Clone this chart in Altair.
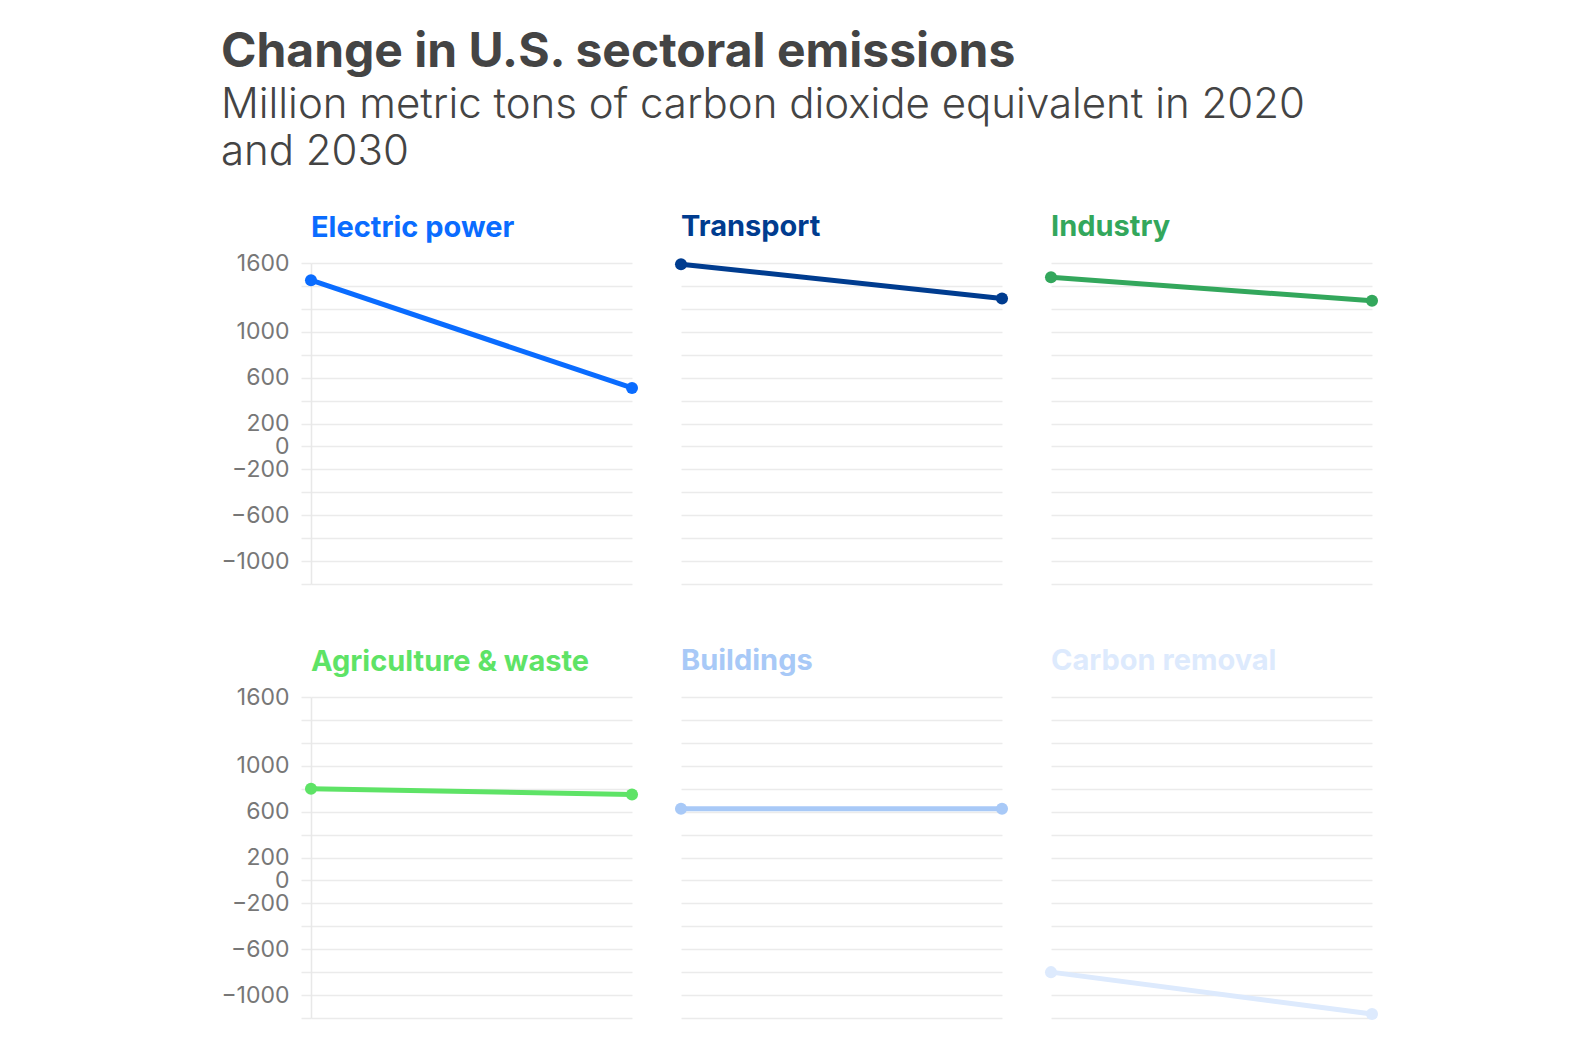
import altair as alt
import pandas as pd

sectors = ["Electric power", "Transport", "Industry",
           "Agriculture & waste", "Buildings", "Carbon removal"]
colors = ["#0A6CFF", "#003C8F", "#33A75C", "#5EE366", "#A8C9F7", "#DDEAFD"]
years = [2020, 2030]
values_2020 = [1450, 1590, 1475, 800, 625, -800]
values_2030 = [510, 1290, 1270, 750, 625, -1165]

grid_values = list(range(-1200, 1601, 200))
label_values = [1600, 1000, 600, 200, 0, -200, -600, -1000]

FONT = "Inter"
rows = []
for s, a, b in zip(sectors, values_2020, values_2030):
    rows.append({"sector": s, "year": years[0], "value": a})
    rows.append({"sector": s, "year": years[1], "value": b})
df = pd.DataFrame(rows)

label_expr = ("indexof([" + ",".join(str(v) for v in label_values)
              + "], datum.value) >= 0 ? format(datum.value, 'd') : ''")

# vertical nudge of each panel title to compensate for content overhang
title_dy = [14, 11, 2, 14, 2, 2]


def panel(i):
    s = sectors[i]
    c = colors[i]
    first_col = (i % 3 == 0)
    if first_col:
        yaxis = alt.Axis(values=grid_values, labelExpr=label_expr, title=None,
                         grid=True, gridColor="#ebebeb", gridWidth=1.5,
                         domain=True, domainColor="#e8e8e8", domainWidth=1.5,
                         ticks=True, tickColor="#ebebeb", tickSize=10, tickWidth=1.5,
                         labelFontSize=23, labelColor="#777777", labelFont=FONT,
                         labelPadding=12, labelOverlap=False, labelBound=False,
                         labelFlush=False)
    else:
        yaxis = alt.Axis(values=grid_values, labels=False, title=None, grid=True,
                         gridColor="#ebebeb", gridWidth=1.5, domain=False,
                         ticks=False)
    base = alt.Chart(df).transform_filter(alt.datum.sector == s)
    enc = dict(
        x=alt.X("year:Q", scale=alt.Scale(domain=[2020, 2030], nice=False),
                axis=None),
        y=alt.Y("value:Q", scale=alt.Scale(domain=[-1200, 1600], nice=False,
                                           zero=False), axis=yaxis),
    )
    line = base.mark_line(color=c, strokeWidth=5).encode(**enc)
    pts = base.mark_circle(color=c, size=145, opacity=1).encode(**enc)
    return (line + pts).properties(
        width=321, height=321,
        title=alt.TitleParams(text=s, color=c, fontSize=29, fontWeight="bold",
                              font=FONT, anchor="start", offset=0,
                              dy=title_dy[i],
                              baseline="alphabetic", frame="group"),
    )


row1 = alt.hconcat(panel(0), panel(1), panel(2), spacing=29)
row2 = alt.hconcat(panel(3), panel(4), panel(5), spacing=29)

chart = alt.vconcat(row1, row2, spacing=51).properties(
    title=alt.TitleParams(
        text="Change in U.S. sectoral emissions",
        subtitle=["Million metric tons of carbon dioxide equivalent in 2020",
                  "and 2030"],
        anchor="start", font=FONT, fontSize=48, fontWeight="bold",
        color="#444444", subtitleFont=FONT, subtitleFontSize=42,
        subtitleFontWeight=300, subtitleColor="#444444",
        subtitlePadding=8, subtitleLineHeight=47, offset=40,
        frame="bounds",
    ),
    padding={"left": 212, "top": 21, "right": 20, "bottom": 4},
    background="white",
).configure_view(stroke="transparent", strokeWidth=0)

chart.save("out.html", embed_options={"renderer": "svg", "actions": False})
